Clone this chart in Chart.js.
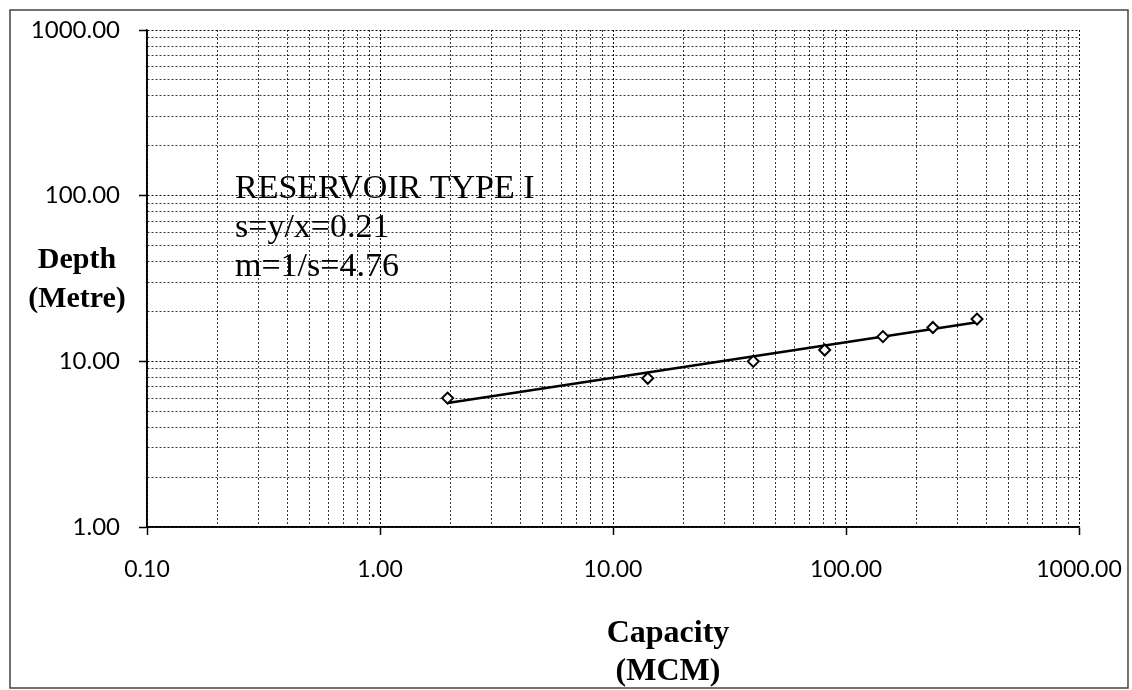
<!DOCTYPE html>
<html>
<head>
<meta charset="utf-8">
<script src="https://cdn.jsdelivr.net/npm/chart.js@4/dist/chart.umd.min.js"></script>
<style>
  html, body { margin: 0; padding: 0; background: #fff; }
  #wrap { width: 1132px; height: 690px; }
</style>
</head>
<body>
<div id="wrap"><canvas id="c" width="1132" height="690"></canvas></div>
<script>
// Reservoir type I: capacity (MCM) against depth (m), both on log axes
const capacityMCM = [1.95, 14.1, 40, 81, 144, 236, 365];
const depthMetre  = [6.0, 7.9, 10.0, 11.7, 14.1, 16.0, 18.0];

// Power-law trend line end points
const trendCapacity = [1.95, 365];
const trendDepth    = [5.6, 17.2];

// Labelled decades on each axis
const capacityDecades = [0.1, 1, 10, 100, 1000];
const depthDecades    = [1, 10, 100, 1000];

const noteLines   = ['RESERVOIR TYPE I', 's=y/x=0.21', 'm=1/s=4.76'];
const yTitleLines = ['Depth', '(Metre)'];
const xTitleLines = ['Capacity', '(MCM)'];

// Gridline positions: 1..9 within every decade plus the last decade
function logGridValues(decades) {
  const out = [];
  for (let i = 0; i < decades.length - 1; i++) {
    for (let m = 1; m <= 9; m++) out.push(parseFloat((decades[i] * m).toPrecision(6)));
  }
  out.push(decades[decades.length - 1]);
  return out;
}
const isDecade = (list, v) => list.some(d => Math.abs(d - v) < d * 1e-9);

const GRID_MAJOR = 'rgba(0,0,0,0.95)';
const GRID_MINOR = 'rgba(0,0,0,0.78)';

const decor = {
  id: 'decor',
  beforeDraw(chart) {
    const ctx = chart.ctx;
    ctx.save();
    ctx.fillStyle = '#fff';
    ctx.fillRect(0, 0, chart.width, chart.height);
    ctx.strokeStyle = '#444';
    ctx.lineWidth = 1.5;
    ctx.strokeRect(10, 10, chart.width - 14, chart.height - 12);
    ctx.restore();
  },
  afterDraw(chart) {
    const ctx = chart.ctx;
    const a = chart.chartArea;
    ctx.save();
    // solid axis lines
    ctx.strokeStyle = '#000';
    ctx.lineWidth = 1.5;
    ctx.setLineDash([]);
    ctx.beginPath();
    ctx.moveTo(a.left, a.top);
    ctx.lineTo(a.left, a.bottom);
    ctx.lineTo(a.right, a.bottom);
    ctx.stroke();

    ctx.fillStyle = '#000';
    // note box text
    ctx.font = '34px "Liberation Serif", "Times New Roman", serif';
    ctx.textAlign = 'left';
    ctx.textBaseline = 'alphabetic';
    noteLines.forEach((t, i) => ctx.fillText(t, a.left + 88, a.top + 168 + i * 39));

    // axis titles
    ctx.textAlign = 'center';
    ctx.font = 'bold 30px "Liberation Serif", "Times New Roman", serif';
    yTitleLines.forEach((t, i) => ctx.fillText(t, 77, 268 + i * 39));
    ctx.font = 'bold 32px "Liberation Serif", "Times New Roman", serif';
    xTitleLines.forEach((t, i) => ctx.fillText(t, 668, 642 + i * 38));
    ctx.restore();
  }
};

new Chart(document.getElementById('c'), {
  type: 'scatter',
  data: {
    datasets: [
      {
        label: 'Observed',
        data: capacityMCM.map((x, i) => ({ x, y: depthMetre[i] })),
        pointStyle: 'rectRot',
        pointRadius: 5.5,
        pointBorderWidth: 2,
        pointBorderColor: '#000',
        pointBackgroundColor: '#fff',
        showLine: false
      },
      {
        label: 'Trend',
        data: trendCapacity.map((x, i) => ({ x, y: trendDepth[i] })),
        showLine: true,
        borderColor: '#000',
        borderWidth: 2.6,
        pointRadius: 0
      }
    ]
  },
  options: {
    responsive: false,
    animation: false,
    devicePixelRatio: 1,
    layout: { padding: { left: 0, top: 30, right: 53, bottom: 0 } },
    plugins: { legend: { display: false }, tooltip: { enabled: false } },
    scales: {
      x: {
        type: 'logarithmic',
        position: 'bottom',
        min: 0.1,
        max: 1000,
        afterBuildTicks: s => { s.ticks = logGridValues(capacityDecades).map(v => ({ value: v })); },
        afterFit: s => { s.height = 163; s.paddingLeft = 0; s.paddingRight = 0; },
        ticks: {
          autoSkip: false,
          maxRotation: 0,
          padding: 21,
          color: '#000',
          font: { family: 'Lato', size: 23 },
          callback: v => isDecade(capacityDecades, v) ? Number(v).toFixed(2) : ''
        },
        grid: {
          color: c => isDecade(capacityDecades, c.tick.value) ? GRID_MAJOR : GRID_MINOR,
          lineWidth: 1,
          tickLength: 8,
          tickWidth: 1.5,
          tickColor: c => isDecade(capacityDecades, c.tick.value) ? '#000' : 'rgba(0,0,0,0)',
          tickBorderDash: []
        },
        border: { color: '#000', width: 1.5, dash: [2, 2] }
      },
      y: {
        type: 'logarithmic',
        min: 1,
        max: 1000,
        afterBuildTicks: s => { s.ticks = logGridValues(depthDecades).map(v => ({ value: v })); },
        afterFit: s => { s.width = 147; s.paddingTop = 0; s.paddingBottom = 0; },
        ticks: {
          autoSkip: false,
          padding: 19,
          color: '#000',
          font: { family: 'Lato', size: 24 },
          callback: v => isDecade(depthDecades, v) ? Number(v).toFixed(2) : ''
        },
        grid: {
          color: c => isDecade(depthDecades, c.tick.value) ? GRID_MAJOR : GRID_MINOR,
          lineWidth: 1,
          tickLength: 8,
          tickWidth: 1.5,
          tickColor: c => isDecade(depthDecades, c.tick.value) ? '#000' : 'rgba(0,0,0,0)',
          tickBorderDash: []
        },
        border: { color: '#000', width: 1.5, dash: [2, 2] }
      }
    }
  },
  plugins: [decor]
});
</script>
</body>
</html>
